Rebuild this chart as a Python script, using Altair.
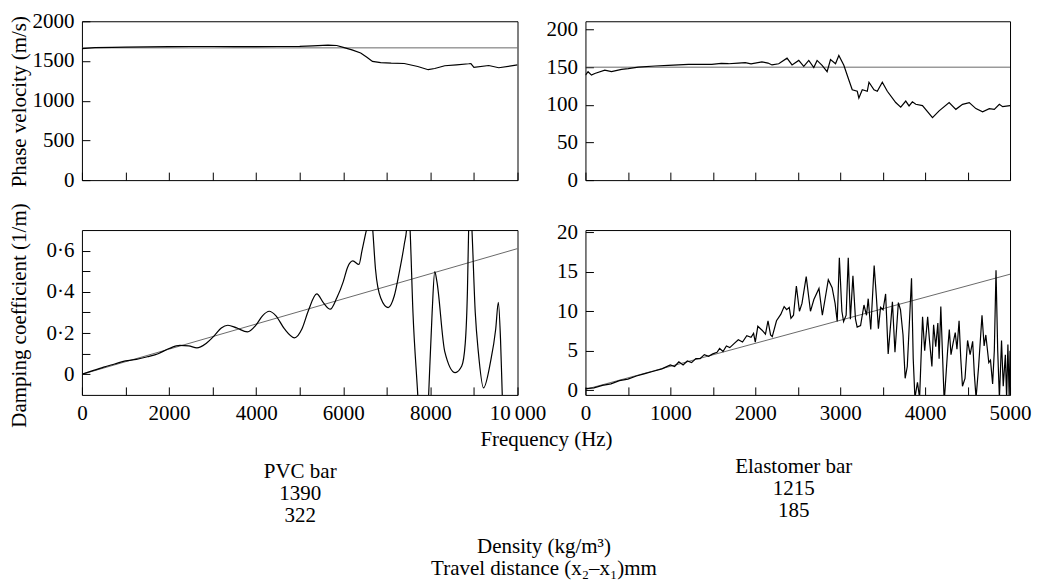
import altair as alt
import pandas as pd

FONT = "Liberation Serif, Times New Roman, Times, DejaVu Serif, serif"
FS = 21

# ---------------- data ----------------
# PVC bar, phase velocity (m/s) vs frequency (Hz)
pvc_vel_freq = [0, 300, 700, 1000, 1500, 2000, 2500, 3000, 3500, 4000, 4500, 5000, 5300, 5650, 5850,
                6000, 6200, 6400, 6550, 6670, 6860, 7100, 7400, 7710, 7950, 8100, 8330, 8600, 8880,
                8930, 9000, 9340, 9570, 10000]
pvc_vel = [1655, 1668, 1672, 1675, 1678, 1680, 1682, 1682, 1680, 1680, 1682, 1684, 1690, 1700, 1695,
           1672, 1640, 1600, 1545, 1495, 1480, 1472, 1468, 1430, 1390, 1405, 1440, 1452, 1465,
           1468, 1420, 1443, 1415, 1450]
pvc_ref_freq = [0, 10000]
pvc_ref_vel = [1665, 1665]

# Elastomer bar, phase velocity (m/s)
el_vel_freq = [0, 31, 71, 110, 228, 307, 425, 504, 622, 819, 976, 1213, 1488, 1600, 1685, 1800, 1882,
               1950, 2079, 2150, 2197, 2276, 2374, 2433, 2512, 2571, 2630, 2689, 2728, 2787, 2846,
               2886, 2945, 2984, 3043, 3102, 3142, 3201, 3220, 3260, 3319, 3339, 3398, 3437, 3496,
               3555, 3654, 3713, 3772, 3811, 3850, 3890, 3969, 4087, 4165, 4283, 4362, 4441, 4520,
               4598, 4677, 4756, 4815, 4874, 4913, 5000]
el_vel = [139.5, 144, 139.5, 141.7, 146, 144, 147, 148, 150, 151.6, 152.5, 153.8, 153.8, 155, 154.6,
          155.5, 156, 154.5, 157, 155.5, 153, 154.6, 162, 153, 159, 151, 159, 149.5, 159, 152.5, 144,
          160, 154.6, 165.5, 152.5, 133, 120, 118, 109, 120, 118, 130, 120, 118, 130,
          118, 103, 97, 105, 98.5, 104, 100.7, 99, 83, 92, 103, 94, 100.7, 103,
          95, 90.7, 95, 94, 100.7, 97.6, 99]
el_ref_freq = [0, 5000]
el_ref_vel = [150, 150]

# PVC bar, damping coefficient (1/m)
pvc_damp_freq = [0, 250, 500, 750, 1000, 1250, 1500, 1750, 2000, 2250,
                 2450, 2640, 2850, 3050, 3200, 3350, 3550, 3800, 4000, 4150,
                 4300, 4450, 4650, 4880, 5050, 5200, 5390, 5550, 5700, 5850,
                 6000, 6100, 6220, 6360, 6430, 6510, 6550, 6610, 6670, 6740,
                 6860, 7030, 7170, 7290, 7400, 7460, 7490, 7530, 7600, 7710,
                 7800, 7900, 7960, 8040, 8100, 8150, 8330, 8570, 8720, 8800,
                 8850, 8880, 8915, 8950, 9030, 9100, 9220, 9380, 9500, 9560,
                 9610, 9650, 9700]
pvc_damp = [0, 0.018, 0.035, 0.05, 0.065, 0.072, 0.085, 0.1, 0.125, 0.14,
            0.138, 0.128, 0.15, 0.19, 0.225, 0.238, 0.225, 0.206, 0.24, 0.285,
            0.306, 0.285, 0.22, 0.177, 0.22, 0.31, 0.39, 0.345, 0.316, 0.37,
            0.45, 0.52, 0.55, 0.533, 0.6, 0.68, 0.72, 0.85, 0.72, 0.51,
            0.37, 0.324, 0.38, 0.5, 0.63, 0.72, 0.85, 0.72, 0.3, -0.1,
            -0.45, -0.4, -0.1, 0.3, 0.498, 0.45, 0.11, 0.008, 0.04, 0.15,
            0.4, 0.72, 0.85, 0.72, 0.3, 0.11, -0.066, 0.06, 0.22, 0.349,
            0.17, -0.1, -0.4]
pvc_damp_ref_freq = [0, 10000]
pvc_damp_ref = [0, 0.61]

# Elastomer bar, damping coefficient (1/m)
el_damp_freq = [0, 100, 200, 300, 400, 500, 600, 700, 800, 900,
                1000, 1050, 1100, 1150, 1200, 1250, 1300, 1350, 1400, 1450,
                1500, 1550, 1580, 1620, 1660, 1700, 1750, 1800, 1850, 1900,
                1950, 1980, 2000, 2030, 2080, 2120, 2150, 2180, 2200, 2250,
                2300, 2340, 2370, 2400, 2420, 2450, 2484, 2520, 2550, 2600,
                2650, 2690, 2750, 2790, 2860, 2905, 2940, 2965, 2990, 3020,
                3040, 3070, 3095, 3120, 3150, 3180, 3200, 3240, 3280, 3310,
                3330, 3360, 3400, 3425, 3450, 3475, 3505, 3535, 3565, 3595,
                3615, 3645, 3685, 3710, 3740, 3765, 3790, 3840, 3860, 3880,
                3910, 3935, 3970, 3995, 4030, 4050, 4080, 4100, 4125, 4150,
                4165, 4185, 4205, 4225, 4265, 4285, 4305, 4330, 4355, 4375,
                4400, 4420, 4440, 4470, 4500, 4530, 4560, 4580, 4600, 4630,
                4670, 4695, 4715, 4750, 4770, 4795, 4815, 4835, 4855, 4875,
                4900, 4920, 4945, 4960, 4975, 4990, 5000]
el_damp = [0.2, 0.3, 0.6, 0.8, 1.2, 1.4, 1.8, 2.1, 2.4, 2.7,
           3.2, 3.0, 3.6, 3.2, 3.7, 3.5, 4.0, 4.0, 4.5, 4.3,
           4.6, 4.8, 5.3, 4.9, 5.6, 5.4, 5.9, 6.4, 6.1, 6.9,
           6.7, 7.2, 6.1, 8.1, 7.6, 7.1, 8.8, 7.0, 6.8, 8.8,
           9.6, 10.6, 10.2, 10.5, 9.1, 9.5, 13.2, 10.0, 11.0, 14.4,
           10.0, 11.5, 12.9, 9.5, 14.0, 13.0, 11.0, 8.7, 16.8, 10.0,
           8.7, 9.5, 16.8, 9.0, 14.5, 9.0, 8.0, 8.2, 10.8, 9.5,
           11.6, 7.7, 15.8, 12.0, 7.8, 10.5, 10.2, 12.2, 4.6, 8.5,
           11.2, 4.8, 11.1, 10.2, 7.0, 1.5, 3.0, 14.2, 4.0, -1.0,
           1.0, -1.0, 9.3, 5.0, 9.3, 6.5, 3.0, 8.3, 5.5, 8.5,
           4.0, 10.6, 4.5, -1.5, 5.0, 7.7, 4.5, 6.0, 7.3, 5.2,
           8.8, 4.0, 0.5, 1.5, 6.3, 4.5, 6.2, 2.0, -1.0, 3.0,
           9.5, 5.6, 7.0, 3.5, 3.8, 0.8, 5.0, 15.2, 5.0, -1.0,
           6.3, 0.5, 4.5, -1.0, 5.8, -1.0, 5.0]
el_damp_ref_freq = [0, 5000]
el_damp_ref = [0.1, 14.7]

# tick values
pvc_x_ticks = [0, 1000, 2000, 3000, 4000, 5000, 6000, 7000, 8000, 9000, 10000]
el_x_ticks = [0, 500, 1000, 1500, 2000, 2500, 3000, 3500, 4000, 4500, 5000]
pvc_vel_ticks = [0, 500, 1000, 1500, 2000]
el_vel_ticks = [0, 50, 100, 150, 200]
pvc_damp_ticks = [0, 0.1, 0.2, 0.3, 0.4, 0.5, 0.6]
el_damp_ticks = [0, 5, 10, 15, 20]

# texts
pvc_block = ["PVC bar", "1390", "322"]
el_block = ["Elastomer bar", "1215", "185"]
freq_title = "Frequency (Hz)"
bottom_block = ["Density (kg/m³)", "Travel distance (x₂–x₁)mm"]
vel_title = "Phase velocity (m/s)"
damp_title = "Damping coefficient (1/m)"

W_L, W_R, H_TOP, H_BOT = 436, 425, 159, 165


def df(f, v):
    return pd.DataFrame({"f": f, "v": v})


AX_COMMON = dict(tickSize=8, offset=-8, domain=False, grid=False, tickColor="black",
                 tickWidth=1, labelFont=FONT, labelFontSize=FS, labelColor="black",
                 labelPadding=8, labelFlush=False, labelOverlap=False,
                 titleFont=FONT, titleFontSize=FS, titleFontWeight="normal",
                 titleColor="black", titleLineHeight=22)


def xaxis(values, title, tx, ty, label_expr=None):
    kw = dict(AX_COMMON)
    kw.update(values=values, title=title, titleX=tx, titleY=ty,
              titleBaseline="top", titleAlign="center")
    if label_expr is None:
        kw["labels"] = False
    else:
        kw["labelExpr"] = label_expr
    return alt.Axis(**kw)


def yaxis(values, title="", tx=-60, ty=80, label_expr=None, fmt=None):
    kw = dict(AX_COMMON)
    kw.update(values=values, title=title, titleX=tx, titleY=ty, titleAngle=270,
              titleBaseline="bottom", titleAlign="center")
    if fmt is not None:
        kw["format"] = fmt
    if label_expr is not None:
        kw["labelExpr"] = label_expr
    return alt.Axis(**kw)


def panel(data, ref, xdom, ydom, w, h, xax, yax, interp="linear"):
    X = alt.X("f:Q", scale=alt.Scale(domain=xdom, nice=False, zero=False), axis=xax)
    Y = alt.Y("v:Q", scale=alt.Scale(domain=ydom, nice=False, zero=False), axis=yax)
    ref_layer = alt.Chart(ref).mark_line(color="#444444", strokeWidth=0.8, clip=True).encode(x=X, y=Y)
    data_layer = alt.Chart(data).mark_line(color="black", strokeWidth=1.2, clip=True,
                                           interpolate=interp).encode(x=X, y=Y)
    return alt.layer(ref_layer, data_layer).properties(width=w, height=h)


tl = panel(df(pvc_vel_freq, pvc_vel), df(pvc_ref_freq, pvc_ref_vel), [0, 10000], [0, 2000], W_L, H_TOP,
           xaxis(pvc_x_ticks, pvc_block, 218, 289),
           yaxis(pvc_vel_ticks, vel_title, -60, 80, fmt="d"))

tr = panel(df(el_vel_freq, el_vel), df(el_ref_freq, el_ref_vel), [0, 5000], [0, 211], W_R, H_TOP,
           xaxis(el_x_ticks, el_block, 208, 284),
           yaxis(el_vel_ticks, fmt="d"))

bl = panel(df(pvc_damp_freq, pvc_damp), df(pvc_damp_ref_freq, pvc_damp_ref), [0, 10000], [-0.1, 0.7],
           W_L, H_BOT,
           xaxis(pvc_x_ticks, freq_title, 464.5, 42,
                 "datum.value == 10000 ? '10\u2009000' : (datum.value % 2000 == 0 ? format(datum.value, 'd') : '')"),
           yaxis(pvc_damp_ticks, damp_title, -60, 85,
                 "datum.value == 0 ? '0' : (round(datum.value * 10) % 2 == 0 ? replace(format(datum.value, '.1f'), '.', '\u00b7') : '')"),
           interp="monotone")

br = panel(df(el_damp_freq, el_damp), df(el_damp_ref_freq, el_damp_ref), [0, 5000], [-0.6, 20.3],
           W_R, H_BOT,
           xaxis(el_x_ticks, bottom_block, -42, 149,
                 "datum.value % 1000 == 0 ? format(datum.value, 'd') : ''"),
           yaxis(el_damp_ticks, fmt="d"))

chart = alt.concat(tl, tr, bl, br, columns=2, spacing={"row": 50, "column": 68}, bounds="flush",
                   padding={"left": 0, "top": 1, "right": 5, "bottom": 0}
                   ).configure_view(stroke="black", strokeWidth=1)

chart.save("out.html", embed_options={"renderer": "svg", "actions": False})
